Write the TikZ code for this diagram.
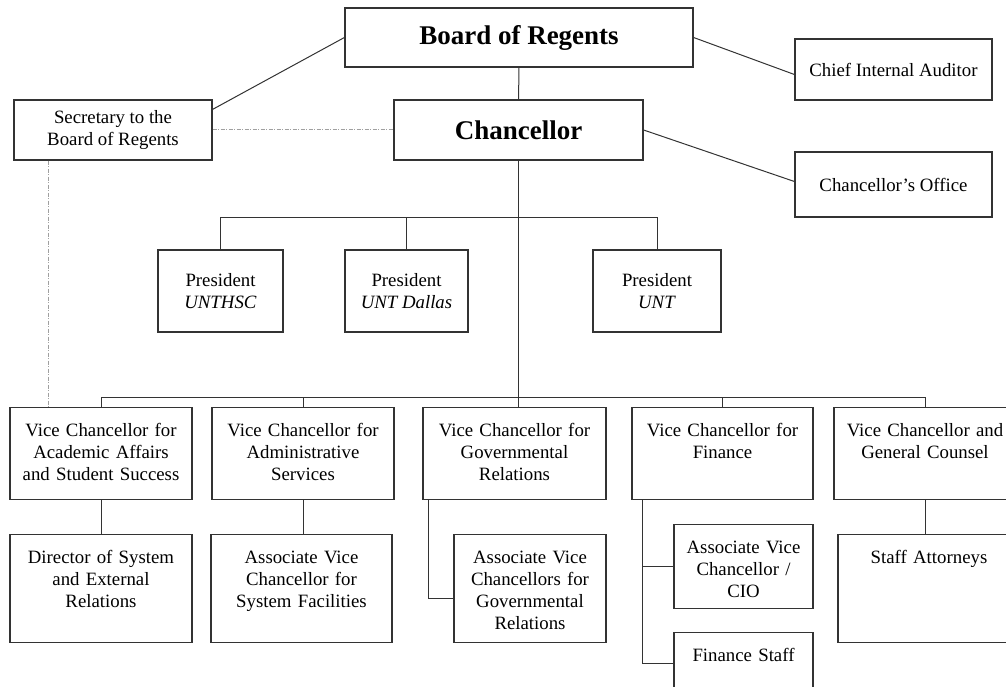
\documentclass[tikz,border=0pt]{standalone}
\usepackage{fontspec}
\setmainfont{Liberation Serif}
\usepackage{xcolor}
\usepackage{tikz}
\usetikzlibrary{positioning}
\definecolor{boxline}{HTML}{333333}
\definecolor{liaisongray}{HTML}{A0A0A0}
\tikzset{
    unit/.style={draw=boxline, line width=1.2pt, align=center, inner sep=0pt,
                 font={\fontsize{18.8}{22}\selectfont}},
    headunit/.style={unit, font={\fontsize{27}{30}\selectfont\bfseries}},
    topunit/.style 2 args={unit, anchor=north, text width=#1, text height=29pt, text depth=#2},
    link/.style={draw=boxline, line width=1pt},
    liaison/.style={draw=liaisongray, line width=1pt, dash pattern=on 4pt off 1.5pt on 1pt off 1.5pt},
}

\begin{document}
\begin{tikzpicture}[x=1pt, y=-1pt]
    \useasboundingbox (0,0) rectangle (1006,687);
    \clip (0,0) rectangle (1006,687);

    % top of the system
    \node[headunit, minimum width=348pt, minimum height=59pt] (board) at (519,37.5) {Board of Regents};
    \node[headunit, minimum width=249pt, minimum height=60pt] (chancellor) at (518.5,130) {Chancellor};
    \node[unit, minimum width=197pt, minimum height=61pt] (auditor) at (893.5,69.5) {Chief Internal Auditor};
    \node[unit, minimum width=197pt, minimum height=65pt] (office) at (893.5,184.5) {Chancellor’s Office};
    \node[unit, minimum width=198pt, minimum height=60pt] (secretary) at (113,130) {Secretary to the\\Board of Regents};

    % presidents
    \node[unit, minimum width=125pt, minimum height=82pt] (pres1) at (220.5,291) {President\\\textit{UNTHSC}};
    \node[unit, minimum width=123pt, minimum height=82pt] (pres2) at (406.5,291) {President\\\textit{UNT Dallas}};
    \node[unit, minimum width=128pt, minimum height=82pt] (pres3) at (657,291) {President\\\textit{UNT}};

    % vice chancellors
    \node[topunit={182pt}{63pt}] (vcaa) at (101,407) {Vice Chancellor for\\Academic Affairs\\and Student Success};
    \node[topunit={182pt}{63pt}] (vcas) at (303,407) {Vice Chancellor for\\Administrative\\Services};
    \node[topunit={183pt}{63pt}] (vcgr) at (514.5,407) {Vice Chancellor for\\Governmental\\Relations};
    \node[topunit={181pt}{63pt}] (vcf) at (722.5,407) {Vice Chancellor for\\Finance};
    \node[topunit={182pt}{63pt}] (vcgc) at (925,407) {Vice Chancellor and\\General Counsel};

    % staff under them
    \node[topunit={182pt}{79pt}] (director) at (101,534) {Director of System\\and External\\Relations};
    \node[topunit={181pt}{79pt}] (assocsys) at (301.5,534) {Associate Vice\\Chancellor for\\System Facilities};
    \node[topunit={152pt}{79pt}] (assocgov) at (530,534) {Associate Vice\\Chancellors for\\Governmental\\Relations};
    \node[topunit={139pt}{55pt}] (cio) at (743.5,524) {Associate Vice\\Chancellor /\\CIO};
    \node[topunit={139pt}{55pt}] (finstaff) at (743.5,632) {Finance Staff};
    \node[topunit={182pt}{79pt}] (attorneys) at (929,534) {Staff Attorneys};

    \coordinate (presbus) at (518.5,217);
    \coordinate (vcbus) at (518.5,397);

    \draw[link] (board) -- (chancellor);
    \draw[link] (board.west) -- ([yshift=-10pt]secretary.north east);
    \draw[link] (board.east) -- ([yshift=-5pt]auditor.west);
    \draw[link] (chancellor.east) -- ([yshift=3pt]office.west);
    \draw[liaison] (secretary) -- (chancellor);
    \draw[liaison] ([xshift=35pt]secretary.south west) -- ([xshift=39pt]vcaa.north west);

    \draw[link] (chancellor.south) -- (chancellor.south |- vcgr.north);
    \draw[link] (pres1.north |- presbus) -- (pres3.north |- presbus);
    \foreach \p in {pres1,pres2,pres3}
        \draw[link] (\p.north |- presbus) -- (\p.north);
    \draw[link] (vcaa.north |- vcbus) -- (vcgc.north |- vcbus);
    \foreach \v in {vcaa,vcas,vcf,vcgc}
        \draw[link] (\v.north |- vcbus) -- (\v.north);

    \draw[link] (vcaa) -- (director);
    \draw[link] (vcas.south) -- (vcas.south |- assocsys.north);
    \draw[link] ([xshift=6pt]vcgr.south west) |- ([yshift=-10pt]assocgov.west);
    \draw[link] ([xshift=11pt]vcf.south west) |- (cio.west);
    \draw[link] ([xshift=11pt]vcf.south west) |- ([yshift=11pt]finstaff.west);
    \draw[link] (vcgc.south) -- (vcgc.south |- attorneys.north);
\end{tikzpicture}
\end{document}
